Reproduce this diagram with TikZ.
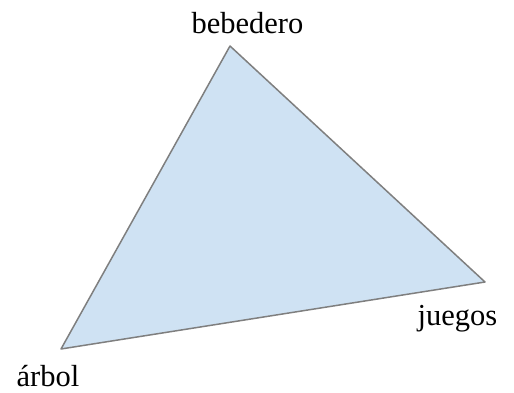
\documentclass[tikz,border=0pt]{standalone}
\usepackage{fontspec}
\setmainfont{Liberation Serif}
\definecolor{tri}{HTML}{CFE2F3}
\definecolor{edge}{HTML}{7F7F7F}
\begin{document}
\begin{tikzpicture}[x=1pt,y=1pt,
  lbl/.style={anchor=base,inner sep=0pt,font=\fontsize{30.5}{36}\selectfont}]
\useasboundingbox (0,0) rectangle (514,392);
\coordinate (A) at (230,346);
\coordinate (J) at (485,110);
\coordinate (R) at (61,43);
\filldraw[fill=tri,draw=edge,line width=1.5pt,line join=round] (A) -- (J) -- (R) -- cycle;
\node[lbl] (la) at (247.5,359) {bebedero};
\node[lbl] (lj) at (457.5,67) {juegos};
\node[lbl] (lr) at (48,6) {árbol};
\end{tikzpicture}
\end{document}
